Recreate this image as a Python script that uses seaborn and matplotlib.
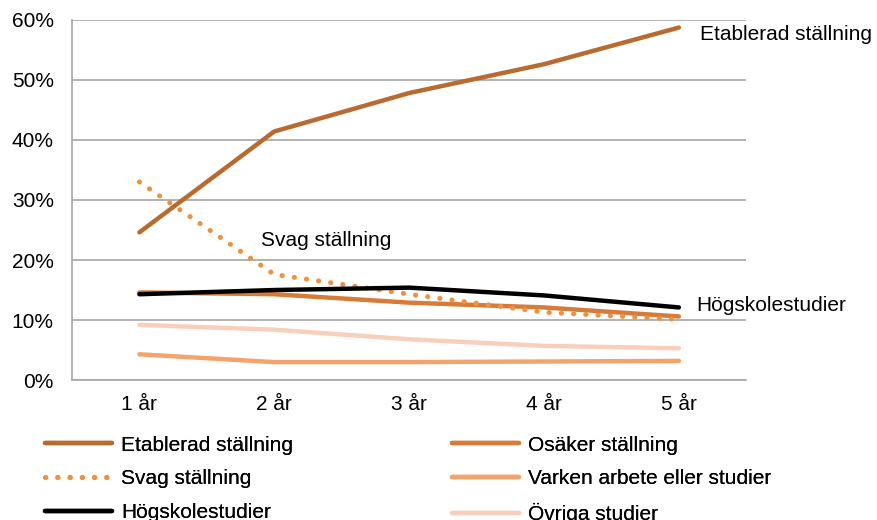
import matplotlib
matplotlib.use("Agg")
import matplotlib.pyplot as plt
import seaborn as sns
import pandas as pd

years = ["1 år", "2 år", "3 år", "4 år", "5 år"]

etablerad = [24.6, 41.4, 47.8, 52.6, 58.7]
osaker = [14.6, 14.3, 12.9, 12.1, 10.6]
svag = [33.0, 17.6, 14.3, 11.3, 10.1]
varken = [4.3, 3.0, 3.0, 3.1, 3.2]
hogskole = [14.3, 15.0, 15.4, 14.1, 12.1]
ovriga = [9.2, 8.4, 6.8, 5.7, 5.3]

series = [
    ("Etablerad ställning", etablerad, "#B86B30", "-"),
    ("Osäker ställning", osaker, "#D67C38", "-"),
    ("Svag ställning", svag, "#EE9142", (0, (0.05, 2.4))),
    ("Varken arbete eller studier", varken, "#F4A46B", "-"),
    ("Högskolestudier", hogskole, "#000000", "-"),
    ("Övriga studier", ovriga, "#F8CFBC", "-"),
]

sns.set_style("white")
plt.rcParams["font.family"] = ["Liberation Sans", "DejaVu Sans"]
plt.rcParams["text.color"] = "black"
FS = 15

fig, ax = plt.subplots(figsize=(8.77, 5.2), dpi=100)
fig.subplots_adjust(left=0.082, right=0.851, top=0.962, bottom=0.269)

order = [0, 1, 2, 3, 5, 4]  # black line drawn on top
handles = {}
for i in order:
    name, vals, color, ls = series[i]
    df = pd.DataFrame({"year": years, "value": vals})
    lw = 3.6 if ls != "-" else 3.2
    sns.lineplot(data=df, x="year", y="value", ax=ax, color=color, lw=lw,
                 linestyle=ls, dash_capstyle="round", solid_capstyle="round",
                 label=name, legend=False)
    handles[name] = ax.lines[-1]

ax.set_xlim(-0.5, 4.5)
ax.set_ylim(0, 60)
ax.set_yticks(range(0, 61, 10))
ax.set_yticklabels([f"{v}%" for v in range(0, 61, 10)])
ax.set_xlabel("")
ax.set_ylabel("")
ax.yaxis.grid(True, color="#A6A6A6", lw=1.2)
ax.set_axisbelow(True)
for side in ["top", "right"]:
    ax.spines[side].set_visible(False)
for side in ["left", "bottom"]:
    ax.spines[side].set_color("#A6A6A6")
    ax.spines[side].set_linewidth(1.2)
ax.tick_params(axis="both", labelsize=FS, length=0, labelcolor="black")
ax.tick_params(axis="y", pad=13)
ax.tick_params(axis="x", pad=11)

ax.text(4.155, 57.5, "Etablerad ställning", fontsize=FS, va="center", ha="left", color="black")
ax.text(0.9, 23.3, "Svag ställning", fontsize=FS, va="center", ha="left", color="black")
ax.text(4.13, 12.5, "Högskolestudier", fontsize=FS, va="center", ha="left", color="black")
for t in ax.texts:
    t.set_clip_on(False)

cols = [([0, 2, 4], 0.051), ([1, 3, 5], 0.515)]
for idx, xpos in cols:
    names = [series[k][0] for k in idx]
    leg = fig.legend([handles[n] for n in names], names, loc="upper left",
                     bbox_to_anchor=(xpos, 0.162), frameon=False, fontsize=FS,
                     handlelength=3.25, handletextpad=0.4, labelspacing=0.7,
                     borderaxespad=0, borderpad=0, labelcolor="black")
    fig.add_artist(leg)

fig.savefig("out.png", dpi=100)
